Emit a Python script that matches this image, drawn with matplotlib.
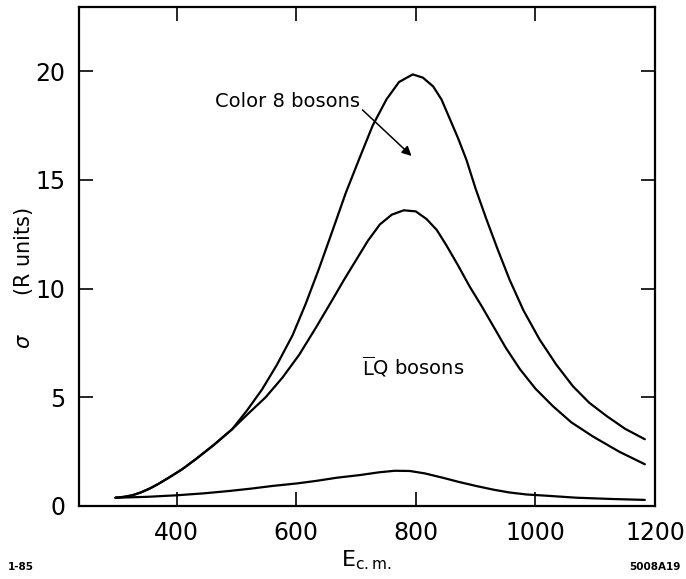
import matplotlib.pyplot as plt

# curve values (E_cm, sigma in R units)
color8_energy = [298, 312, 326, 340, 355, 370, 387, 410, 432, 462, 493, 518, 543, 568, 594,
                 616, 638, 660, 683, 706, 728, 751, 772, 795, 812, 829, 843, 857, 871, 885,
                 900, 918, 937, 957, 980, 1007, 1035, 1063, 1090, 1119, 1150, 1183]
color8_sigma = [0.38, 0.42, 0.49, 0.62, 0.8, 1.02, 1.3, 1.7, 2.15, 2.8, 3.53, 4.4, 5.36, 6.5, 7.85,
                9.3, 10.9, 12.6, 14.4, 16.0, 17.5, 18.7, 19.5, 19.85, 19.7, 19.3, 18.7, 17.8, 16.9, 15.9,
                14.6, 13.2, 11.8, 10.4, 9.0, 7.66, 6.5, 5.5, 4.75, 4.14, 3.55, 3.07]

middle_energy = [298, 312, 326, 340, 355, 370, 387, 410, 432, 462, 493, 520, 549, 577, 605,
                 633, 661, 680, 700, 720, 740, 760, 780, 800, 818, 835, 851, 870, 890, 910,
                 929, 950, 974, 1000, 1029, 1060, 1096, 1140, 1183]
middle_sigma = [0.38, 0.42, 0.49, 0.62, 0.8, 1.02, 1.3, 1.7, 2.15, 2.8, 3.53, 4.25, 5.0, 5.9, 6.95,
                8.2, 9.5, 10.4, 11.3, 12.2, 12.95, 13.4, 13.6, 13.55, 13.2, 12.7, 12.0, 11.1, 10.1, 9.2,
                8.3, 7.3, 6.3, 5.4, 4.6, 3.85, 3.2, 2.5, 1.92]

lq_energy = [298, 350, 399, 445, 488, 525, 560, 602, 635, 668, 706, 739, 765, 790, 815,
             845, 873, 901, 930, 957, 985, 1020, 1069, 1130, 1183]
lq_sigma = [0.38, 0.42, 0.49, 0.58, 0.69, 0.8, 0.92, 1.04, 1.16, 1.3, 1.42, 1.55, 1.62, 1.61, 1.5,
            1.3, 1.1, 0.92, 0.75, 0.62, 0.53, 0.47, 0.38, 0.32, 0.28]

x_ticks = [400, 600, 800, 1000, 1200]
y_ticks = [0, 5, 10, 15, 20]


def plot_cross_sections():
    fig = plt.figure(figsize=(6.86, 5.79), dpi=100)
    ax = fig.add_axes([0.1152, 0.1261, 0.8396, 0.8618])

    for energy, sigma in [(color8_energy, color8_sigma),
                          (middle_energy, middle_sigma),
                          (lq_energy, lq_sigma)]:
        ax.plot(energy, sigma, color="black", linewidth=1.6,
                solid_capstyle="round", solid_joinstyle="round")

    ax.set_xlim(237, 1200)
    ax.set_ylim(0, 22.95)
    ax.set_xticks(x_ticks)
    ax.set_yticks(y_ticks)
    ax.tick_params(direction="in", length=10, width=1.2, top=True, right=True,
                   labelsize=17)
    ax.tick_params(axis="x", pad=11)
    ax.tick_params(axis="y", pad=10)
    for spine in ax.spines.values():
        spine.set_linewidth(1.6)

    ax.set_xlabel(r"E$_{\mathrm{c.m.}}$", fontsize=16, labelpad=2)
    ax.text(-0.097, 0.456, r"$\sigma$      (R units)", transform=ax.transAxes,
            rotation=90, ha="center", va="center", fontsize=15)

    ax.annotate("Color 8 bosons", xy=(793, 16.1), xytext=(585, 18.6),
                ha="center", va="center", fontsize=14,
                arrowprops=dict(arrowstyle="-|>", color="black", lw=1.1,
                                shrinkA=0, shrinkB=0, mutation_scale=14,
                                relpos=(1.0, 0.2)))
    ax.text(795, 6.4, r"$\overline{\mathrm{L}}$Q bosons", ha="center", va="center",
            fontsize=14)

    fig.text(0.012, 0.015, "1-85", fontsize=7.5, fontweight="bold")
    fig.text(0.992, 0.015, "5008A19", fontsize=7.5, fontweight="bold", ha="right")

    fig.savefig("out.png", dpi=100)
    plt.close(fig)


def main():
    plot_cross_sections()


if __name__ == "__main__":
    main()
